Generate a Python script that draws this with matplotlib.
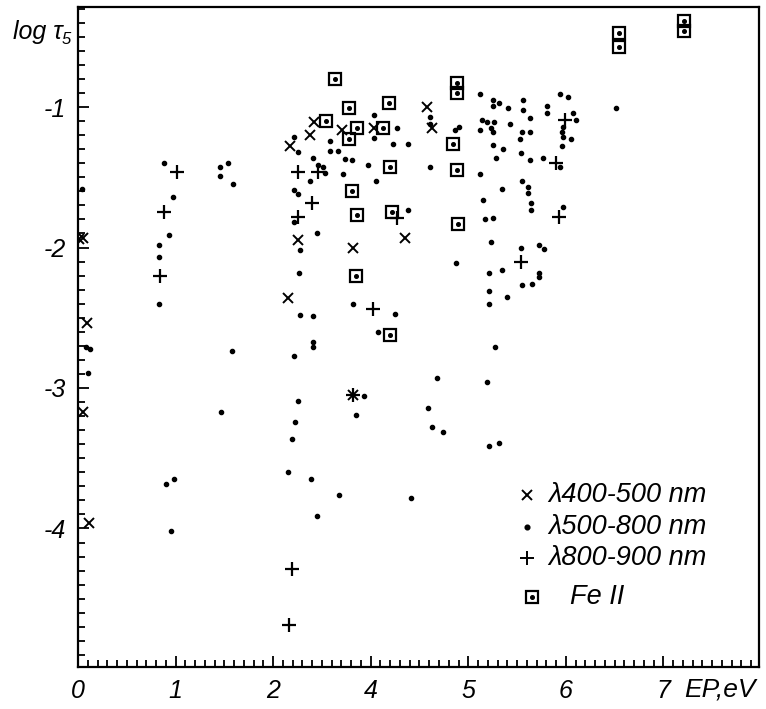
import matplotlib.pyplot as plt
from matplotlib.ticker import MultipleLocator

plt.rcParams['font.family'] = ['Liberation Sans', 'DejaVu Sans']

# x values are in axis units as printed (ticks 0..6 carry labels 0,1,2,4,5,6,7)
xtick_pos = [0, 1, 2, 3, 4, 5, 6]
xtick_labels = ['0', '1', '2', '4', '5', '6', '7']
ytick_pos = [-4, -3, -2, -1]
ytick_labels = ['-4', '-3', '-2', '-1']

# lambda 400-500 nm (crosses)
x400 = [0.01, 0.05, 0.09, 0.05, 0.11, 2.42, 2.38, 2.17, 2.71, 3.03, 3.58, 3.63,
        2.26, 2.82, 3.35, 2.15, 2.82]
y400 = [-1.94, -1.93, -2.54, -3.17, -3.96, -1.11, -1.20, -1.28, -1.16, -1.15, -1.00, -1.15,
        -1.95, -2.00, -1.93, -2.36, -3.05]

# lambda 500-800 nm (dots)
x500 = [0.04, 0.08, 0.12, 0.10,
        0.88, 0.97, 0.93, 0.83, 0.83, 0.83,
        1.46, 1.46, 1.54, 1.59, 1.58, 1.47,
        0.90, 0.98, 0.95,
        2.15, 2.39, 2.68, 2.45,
        2.21, 2.26, 2.21, 2.26, 2.21, 2.28, 2.27, 2.28, 2.41, 2.41, 2.41, 2.21, 2.26, 2.22, 2.19,
        2.45, 2.41, 2.46, 2.51, 2.53, 2.58, 2.58, 2.67, 2.74, 2.81, 2.72, 2.38, 2.97, 3.05,
        3.03, 3.03, 3.27, 3.23, 3.38, 3.38, 3.61,
        2.82, 3.25, 3.08, 2.93, 2.85, 3.68, 3.59, 3.63, 3.74, 3.41,
        3.61, 3.61, 3.90, 3.86, 3.87,
        4.12, 4.25, 4.25, 4.31, 4.41, 4.14, 4.19, 4.26, 4.12, 4.23, 4.25, 4.25, 4.36, 4.28,
        4.43, 4.12, 4.35, 4.15, 4.17, 4.25, 4.23, 4.21, 4.35, 4.21, 4.40, 4.21, 4.27, 4.19,
        4.21, 4.31,
        4.56, 4.56, 4.63, 4.55, 4.63, 4.53, 4.54, 4.63, 4.55, 4.61, 4.61, 4.64, 4.64, 4.54,
        4.72, 4.78, 4.72, 4.72, 4.55, 4.65, 4.77,
        4.94, 5.02, 4.81, 4.81, 5.07, 5.10, 4.97, 4.96, 4.97, 5.05, 4.96, 4.94, 4.97, 5.51]
y500 = [-1.58, -2.71, -2.72, -2.89,
        -1.40, -1.64, -1.91, -1.98, -2.07, -2.40,
        -1.43, -1.49, -1.40, -1.55, -2.74, -3.17,
        -3.68, -3.65, -4.02,
        -3.60, -3.65, -3.76, -3.91,
        -1.21, -1.32, -1.59, -1.62, -1.82, -2.02, -2.18, -2.48, -2.49, -2.67, -2.71, -2.77,
        -3.09, -3.24, -3.36,
        -1.90, -1.36, -1.41, -1.43, -1.47, -1.24, -1.31, -1.31, -1.37, -1.38, -1.48, -1.53,
        -1.41, -1.53,
        -1.06, -1.22, -1.15, -1.26, -1.26, -1.73, -1.43,
        -2.40, -2.47, -2.60, -3.06, -3.19, -2.93, -3.14, -3.28, -3.31, -3.78,
        -1.07, -1.12, -1.14, -1.16, -2.11,
        -0.91, -0.95, -0.99, -0.97, -1.01, -1.09, -1.11, -1.11, -1.16, -1.15, -1.18, -1.27,
        -1.30, -1.36,
        -1.12, -1.48, -1.58, -1.66, -1.80, -1.79, -1.96, -2.18, -2.16, -2.31, -2.35, -2.40,
        -2.71, -2.96,
        -3.41, -3.39,
        -0.95, -1.02, -1.08, -1.18, -1.18, -1.23, -1.33, -1.38, -1.53, -1.57, -1.61, -1.68,
        -1.73, -2.00,
        -1.98, -2.01, -2.18, -2.21, -2.27, -2.26, -1.36,
        -0.91, -0.93, -0.99, -1.04, -1.04, -1.09, -1.14, -1.18, -1.21, -1.23, -1.28, -1.43,
        -1.71, -1.01]

# lambda 800-900 nm (plus signs)
x800 = [1.01, 0.88, 0.84, 2.26, 2.46, 2.40, 2.26, 3.27, 3.02, 2.82, 2.19, 2.16,
        4.99, 4.90, 4.93, 4.54]
y800 = [-1.46, -1.75, -2.20, -1.46, -1.46, -1.68, -1.78, -1.79, -2.44, -3.05, -4.29, -4.69,
        -1.09, -1.40, -1.78, -2.10]

# Fe II (boxed dots)
xfe = [2.63, 2.78, 3.19, 3.88, 3.88, 2.54, 2.86, 2.78, 3.13, 3.84, 3.20, 3.88,
       2.81, 2.86, 3.22, 3.89, 2.85, 3.20, 5.54, 5.54, 6.21, 6.21]
yfe = [-0.80, -1.01, -0.97, -0.83, -0.90, -1.10, -1.15, -1.23, -1.15, -1.26, -1.43, -1.45,
       -1.60, -1.77, -1.75, -1.83, -2.20, -2.62, -0.47, -0.57, -0.39, -0.46]

W, H = 766, 709
fig = plt.figure(figsize=(W / 100, H / 100), dpi=100)
ax = fig.add_axes([78 / W, 1 - 667 / H, (759 - 78) / W, (667 - 7) / H])

ax.plot(x400, y400, 'x', color='black', ms=7.5, mew=1.4, ls='none')
ax.plot(x500, y500, 'o', color='black', ms=3.0, ls='none')
ax.plot(x800, y800, '+', color='black', ms=10, mew=1.6, ls='none')
ax.plot(xfe, yfe, 's', mfc='none', mec='black', ms=8.5, mew=1.6, ls='none')
ax.plot(xfe, yfe, 'o', color='black', ms=2.6, ls='none')

ax.set_xlim(0, 6.98)
ax.set_ylim(-4.986, -0.288)

ax.set_xticks(xtick_pos)
ax.set_xticklabels(xtick_labels, fontsize=18, style='italic')
ax.set_yticks(ytick_pos)
ax.set_yticklabels(ytick_labels, fontsize=18, style='italic')
ax.xaxis.set_minor_locator(MultipleLocator(0.1))
ax.yaxis.set_minor_locator(MultipleLocator(0.1))
ax.tick_params(which='both', direction='in', width=1.3, colors='black')
ax.tick_params(which='major', length=8)
ax.tick_params(which='minor', length=5)
ax.tick_params(axis='x', pad=9)
ax.tick_params(axis='y', pad=9)
for s in ax.spines.values():
    s.set_linewidth(1.6)

# axis titles
fig.text(13 / W, 1 - 39 / H, 'log τ', fontsize=18, style='italic', va='baseline')
fig.text(62 / W, 1 - 44 / H, '5', fontsize=12, style='italic', va='baseline')
fig.text(684 / W, 1 - 690 / H, 'EP,eV', fontsize=19, style='italic', va='center')

# legend drawn by hand
lx = (527 - 78) / 681
tx = (548 - 78) / 681
rows = [(495, 'x', 7.5, 'λ400-500 nm'), (527, 'o', 3.0, 'λ500-800 nm'),
        (558, '+', 10, 'λ800-900 nm')]
for py, m, size, label in rows:
    ly = (667 - py) / 660
    ax.plot([lx], [ly], m, color='black', ms=size, mew=1.4, transform=ax.transAxes)
    ax.text(tx, ly, label, fontsize=19.5, style='italic', va='center', transform=ax.transAxes)
ly = (667 - 597) / 660
fx = (532 - 78) / 681
ax.plot([fx], [ly], 's', mfc='none', mec='black', ms=8.5, mew=1.6, transform=ax.transAxes)
ax.plot([fx], [ly], 'o', color='black', ms=2.6, transform=ax.transAxes)
ax.text((570 - 78) / 681, ly, 'Fe II', fontsize=19.5, style='italic', va='center',
        transform=ax.transAxes)

fig.savefig('out.png', dpi=100)
